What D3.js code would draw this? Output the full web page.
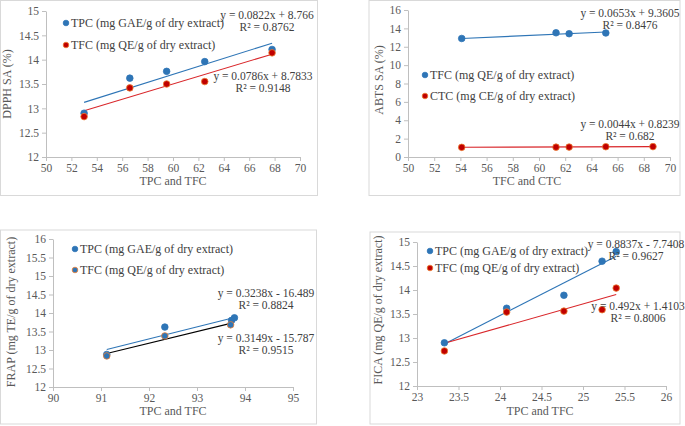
<!DOCTYPE html>
<html>
<head>
<meta charset="utf-8">
<script src="https://cdn.jsdelivr.net/npm/d3@7"></script>
<style>
  body { margin: 0; background: #fff; }
  svg text { font-family: "Times New Roman", "Liberation Serif", "DejaVu Serif", serif; fill: #404040; }
  svg .tick text, svg .title { fill: #595959; }
</style>
</head>
<body>
<div id="plot"></div>
<script>
"use-strict";

// panel 1: DPPH
const dpphX = [53.0, 56.6, 59.5, 62.5, 67.8];
const dpphTPC = [12.9, 13.62, 13.76, 13.96, 14.21];
const dpphTFC = [12.83, 13.42, 13.5, 13.55, 14.14];

// panel 2: ABTS
const abtsTfcX = [54.1, 61.3, 62.3, 65.1];
const abtsTFC = [12.9, 13.52, 13.42, 13.5];
const abtsCtcX = [54.1, 61.3, 62.3, 65.1, 68.7];
const abtsCTC = [1.05, 1.07, 1.08, 1.12, 1.13];

// panel 3: FRAP
const frapTpcX = [91.12, 92.33, 93.72, 93.78];
const frapTPC = [12.88, 13.62, 13.8, 13.87];
const frapTfcX = [91.12, 92.33, 93.7];
const frapTFC = [12.84, 13.38, 13.68];

// panel 4: FICA
const ficaX = [23.33, 24.08, 24.77, 25.23, 25.4];
const ficaTPC = [12.9, 13.62, 13.89, 14.6, 14.8];
const ficaTFC = [12.73, 13.54, 13.56, 13.59, 14.04];

// trendline coefficients [slope, intercept]
const trendCoef = {
    dpphTPC: [0.0822, 8.766], dpphTFC: [0.0786, 8.7833],
    abtsTFC: [0.0653, 9.3605], abtsCTC: [0.0044, 0.8239],
    frapTPC: [0.3238, -16.489], frapTFC: [0.3149, -15.787],
    ficaTPC: [0.8837, -7.7408], ficaTFC: [0.492, 1.4103]
};

const blue = "#2e75b6";
const red = "#c00000";
const orange = "#ed7d31";
const serif = '"Times New Roman", "Liberation Serif", serif';

const svg = d3.select("#plot").append("svg")
    .attr("width", 685)
    .attr("height", 426);

function zip(xs, ys) { return xs.map((x, i) => ({ x: x, y: ys[i] })); }

const panels = [
    {
        box: [0.5, 0.5, 317, 195], xr: [46, 300], yr: [157, 11],
        xd: [50, 70], yd: [12, 15], xt: d3.range(50, 71, 2), yt: d3.range(12, 15.01, 0.5),
        xTitle: "TPC and TFC", xTitleX: 173, xTitleY: 185,
        yTitle: "DPPH SA (%)", yTitleX: 11, yTitleY: 84,
        series: [
            { pts: zip(dpphX, dpphTPC), fill: blue, stroke: blue, line: blue, coef: trendCoef.dpphTPC,
              label: "TPC (mg GAE/g of dry extract)", lx: 66, ly: 23,
              eq: "y = 0.0822x + 8.766", r2: "R² = 0.8762", ex: 267, ey: 19 },
            { pts: zip(dpphX, dpphTFC), fill: red, stroke: orange, line: "#d9262a", coef: trendCoef.dpphTFC,
              label: "TFC (mg QE/g of dry extract)", lx: 66, ly: 45,
              eq: "y = 0.0786x + 8.7833", r2: "R² = 0.9148", ex: 263, ey: 80 }
        ]
    },
    {
        box: [369, 0.5, 311, 195], xr: [408, 670], yr: [157, 10],
        xd: [50, 70], yd: [0, 16], xt: d3.range(50, 71, 2), yt: d3.range(0, 17, 2),
        xTitle: "TFC and CTC", xTitleX: 527, xTitleY: 185,
        yTitle: "ABTS SA (%)", yTitleX: 383, yTitleY: 80,
        series: [
            { pts: zip(abtsTfcX, abtsTFC), fill: blue, stroke: blue, line: blue, coef: trendCoef.abtsTFC,
              label: "TFC (mg QE/g of dry extract)", lx: 425, ly: 75,
              eq: "y = 0.0653x  + 9.3605", r2: "R² = 0.8476", ex: 630, ey: 17 },
            { pts: zip(abtsCtcX, abtsCTC), fill: red, stroke: orange, line: "#d9262a", coef: trendCoef.abtsCTC,
              label: "CTC (mg CE/g of dry extract)", lx: 425, ly: 96,
              eq: "y = 0.0044x  + 0.8239", r2: "R² = 0.682", ex: 630, ey: 128 }
        ]
    },
    {
        box: [0.5, 230, 316, 194], xr: [53, 293], yr: [387, 239],
        xd: [90, 95], yd: [12, 16], xt: d3.range(90, 96, 1), yt: d3.range(12, 16.01, 0.5),
        xTitle: "TPC and TFC", xTitleX: 173, xTitleY: 415,
        yTitle: "FRAP (mg TE/g of dry extract)", yTitleX: 15, yTitleY: 312,
        series: [
            { pts: zip(frapTpcX, frapTPC), fill: blue, stroke: blue, line: blue, coef: trendCoef.frapTPC,
              label: "TPC (mg GAE/g of dry extract)", lx: 75, ly: 249,
              eq: "y = 0.3238x - 16.489", r2: "R² = 0.8824", ex: 266, ey: 297 },
            { pts: zip(frapTfcX, frapTFC), fill: blue, stroke: orange, line: "#000000", coef: trendCoef.frapTFC,
              label: "TFC (mg QE/g of dry extract)", lx: 75, ly: 270,
              eq: "y = 0.3149x - 15.787", r2: "R² = 0.9515", ex: 266, ey: 342 }
        ]
    },
    {
        box: [370, 232, 310, 192], xr: [417, 666], yr: [386, 242],
        xd: [23, 26], yd: [12, 15], xt: d3.range(23, 26.01, 0.5), yt: d3.range(12, 15.01, 0.5),
        xTitle: "TPC and TFC", xTitleX: 540, xTitleY: 415,
        yTitle: "FICA (mg QE/g of dry extract)", yTitleX: 382, yTitleY: 310,
        series: [
            { pts: zip(ficaX, ficaTPC), fill: blue, stroke: blue, line: blue, coef: trendCoef.ficaTPC,
              label: "TPC (mg GAE/g of dry extract)", lx: 430, ly: 251,
              eq: "y = 0.8837x - 7.7408", r2: "R² = 0.9627", ex: 636, ey: 248 },
            { pts: zip(ficaX, ficaTFC), fill: red, stroke: orange, line: "#d9262a", coef: trendCoef.ficaTFC,
              label: "TFC (mg QE/g of dry extract)", lx: 430, ly: 268,
              eq: "y = 0.492x + 1.4103", r2: "R² = 0.8006", ex: 638, ey: 310 }
        ]
    }
];

panels.forEach(drawPanel);

function drawPanel(p) {
    let g = svg.append("g").attr("font-family", serif);
    // outer frame
    g.append("rect")
        .attr("x", p.box[0]).attr("y", p.box[1])
        .attr("width", p.box[2]).attr("height", p.box[3])
        .attr("fill", "none").attr("stroke", "#d9d9d9");

    let x = d3.scaleLinear().domain(p.xd).range(p.xr);
    let y = d3.scaleLinear().domain(p.yd).range(p.yr);
    let fmt = d3.format("~g");

    let xAxis = g.append("g")
        .attr("transform", "translate(0," + p.yr[0] + ")")
        .call(d3.axisBottom(x).tickValues(p.xt).tickSize(4).tickSizeOuter(0).tickFormat(fmt).tickPadding(3));
    let yAxis = g.append("g")
        .attr("transform", "translate(" + p.xr[0] + ",0)")
        .call(d3.axisLeft(y).tickValues(p.yt).tickSize(4).tickSizeOuter(0).tickFormat(fmt).tickPadding(3));
    [xAxis, yAxis].forEach(a => {
        a.attr("font-family", serif).attr("font-size", 11.5);
        a.selectAll("path, line").attr("stroke", "#bfbfbf");
    });

    g.append("text")
        .attr("class", "title")
        .attr("x", p.xTitleX).attr("y", p.xTitleY)
        .attr("text-anchor", "middle").style("font-size", "12px")
        .text(p.xTitle);
    g.append("text")
        .attr("class", "title")
        .attr("transform", "translate(" + p.yTitleX + "," + p.yTitleY + ") rotate(-90)")
        .attr("text-anchor", "middle").style("font-size", "12px")
        .text(p.yTitle);

    p.series.forEach(s => {
        let xs = d3.extent(s.pts, d => d.x);
        g.append("line")
            .attr("x1", x(xs[0])).attr("y1", y(s.coef[0] * xs[0] + s.coef[1]))
            .attr("x2", x(xs[1])).attr("y2", y(s.coef[0] * xs[1] + s.coef[1]))
            .attr("stroke", s.line).attr("stroke-width", 1.1);
    });

    p.series.forEach(s => {
        g.append("g").selectAll("circle")
            .data(s.pts)
            .enter()
            .append("circle")
            .attr("cx", d => x(d.x))
            .attr("cy", d => y(d.y))
            .attr("r", 3.3)
            .attr("fill", s.fill)
            .attr("stroke", s.stroke)
            .attr("stroke-width", 0.8);

        // legend
        g.append("circle")
            .attr("cx", s.lx).attr("cy", s.ly).attr("r", 2.8)
            .attr("fill", s.fill).attr("stroke", s.stroke).attr("stroke-width", 0.8);
        g.append("text")
            .attr("x", s.lx + 5).attr("y", s.ly + 4)
            .style("font-size", "12px")
            .text(s.label);

        // equation
        g.append("text")
            .attr("x", s.ex).attr("y", s.ey)
            .attr("text-anchor", "middle").style("font-size", "11.5px")
            .text(s.eq);
        g.append("text")
            .attr("x", s.ex).attr("y", s.ey + 12)
            .attr("text-anchor", "middle").style("font-size", "11.5px")
            .text(s.r2);
    });
}
</script>
</body>
</html>
